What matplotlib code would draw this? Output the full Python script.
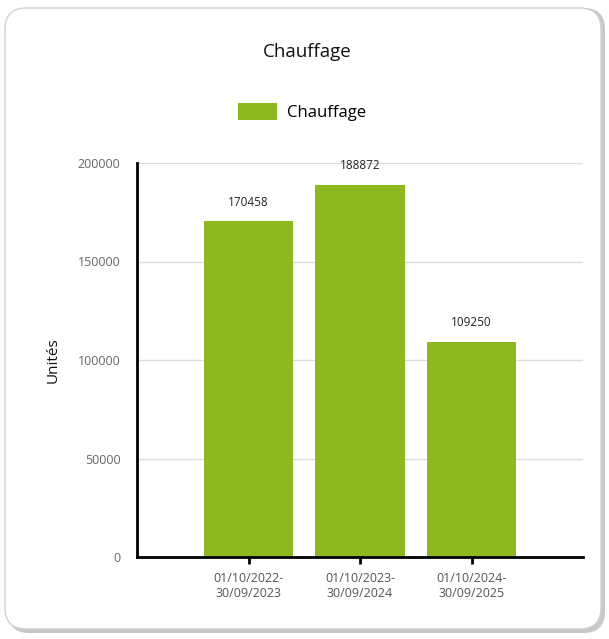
import matplotlib
matplotlib.use("Agg")
import matplotlib.pyplot as plt
from matplotlib.patches import FancyBboxPatch

plt.rcParams['font.family'] = ['Open Sans', 'DejaVu Sans']

categories = ["01/10/2022-\n30/09/2023", "01/10/2023-\n30/09/2024", "01/10/2024-\n30/09/2025"]
values = [170458, 188872, 109250]
yticks = [0, 50000, 100000, 150000, 200000]
title = "Chauffage"
series_name = "Chauffage"
ylabel = "Unités"
bar_color = "#8DB81E"

W, H = 609, 639
fig = plt.figure(figsize=(W / 100, H / 100), dpi=100)
fig.patch.set_facecolor("white")

# card with shadow
shadow = FancyBboxPatch((8 / W, 6 / H), 597 / W, 625 / H,
                        boxstyle="round,pad=0,rounding_size=0.035",
                        transform=fig.transFigure, facecolor="#c8c8c8",
                        edgecolor="none", zorder=0, mutation_aspect=W / H)
fig.patches.append(shadow)
card = FancyBboxPatch((5 / W, 10 / H), 596 / W, 621 / H,
                      boxstyle="round,pad=0,rounding_size=0.035",
                      transform=fig.transFigure, facecolor="white",
                      edgecolor="#d0d0d0", linewidth=1.0, zorder=1,
                      mutation_aspect=W / H)
fig.patches.append(card)

ax = fig.add_axes([137 / W, 1 - 557 / H, (583 - 137) / W, (557 - 163) / H])
ax.set_zorder(2)
ax.patch.set_alpha(0)

x = list(range(len(categories)))
bars = ax.bar(x, values, width=0.8, color=bar_color, zorder=2, label=series_name)
for xi, v in zip(x, values):
    ax.annotate(str(v), (xi, v), xytext=(0, 9), textcoords="offset points",
                ha="center", va="bottom", fontsize=8.5, color="#222222")

ax.set_xlim(-1, 3)
ax.set_ylim(0, 200000)
ax.set_yticks(yticks)
ax.set_yticklabels([str(t) for t in yticks])
ax.set_xticks(x)
ax.set_xticklabels(categories)
ax.grid(axis="y", color="#dddddd", linewidth=1, zorder=0)
for s in ["top", "right"]:
    ax.spines[s].set_visible(False)
ax.spines["left"].set_linewidth(2)
ax.spines["bottom"].set_linewidth(2)
ax.spines["left"].set_color("black")
ax.spines["bottom"].set_color("black")
ax.tick_params(axis="y", length=0, pad=12, labelsize=9, labelcolor="#666666")
ax.tick_params(axis="x", length=5, width=2, pad=6, labelsize=9, labelcolor="#555555")
ax.set_ylabel(ylabel, fontsize=11, labelpad=12, color="#111111")

fig.text(307 / W, 1 - 52 / H, title, ha="center", va="center", fontsize=13.5, color="#111111", zorder=3)
leg = fig.legend(handles=[bars], labels=[series_name], loc="center",
                 bbox_to_anchor=(302 / W, 1 - 112 / H), frameon=False,
                 fontsize=12, handlelength=2.3, handleheight=1.2, handletextpad=0.6)

fig.savefig("out.png", dpi=100)
